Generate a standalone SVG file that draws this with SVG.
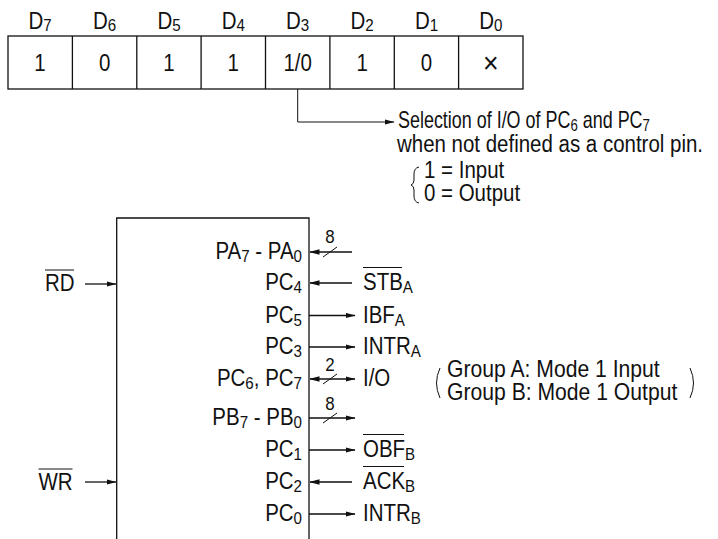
<svg xmlns="http://www.w3.org/2000/svg" width="718" height="539" viewBox="0 0 718 539">
<style>
text{font-family:"Liberation Sans",Arial,sans-serif;font-size:23px;fill:#111}
.c{text-anchor:middle}
.e{text-anchor:end}
.s{font-size:17px}
.n{font-size:19px}
.x{font-size:30px}
.ln{stroke:#111;stroke-width:1.3;fill:none}
.th{stroke:#111;stroke-width:1;fill:none}
</style>
<defs>
<marker id="ah" markerUnits="userSpaceOnUse" markerWidth="10" markerHeight="6" refX="9.5" refY="3" orient="auto-start-reverse" viewBox="0 0 10 6">
<path d="M0,0.3 L10,3 L0,5.7 z" fill="#111"/>
</marker>
</defs>
<g id="register">
<rect x="8" y="36" width="515" height="53" class="ln"/>
<path class="ln" d="M72.4,36V89M136.8,36V89M201.1,36V89M265.5,36V89M329.9,36V89M394.3,36V89M458.6,36V89"/>
<text class="c" transform="translate(40,29) scale(.89,1)">D<tspan class="s" dy="2">7</tspan></text>
<text class="c" transform="translate(104.6,29) scale(.89,1)">D<tspan class="s" dy="2">6</tspan></text>
<text class="c" transform="translate(169,29) scale(.89,1)">D<tspan class="s" dy="2">5</tspan></text>
<text class="c" transform="translate(233.3,29) scale(.89,1)">D<tspan class="s" dy="2">4</tspan></text>
<text class="c" transform="translate(297.7,29) scale(.89,1)">D<tspan class="s" dy="2">3</tspan></text>
<text class="c" transform="translate(362.1,29) scale(.89,1)">D<tspan class="s" dy="2">2</tspan></text>
<text class="c" transform="translate(426.5,29) scale(.89,1)">D<tspan class="s" dy="2">1</tspan></text>
<text class="c" transform="translate(490.9,29) scale(.89,1)">D<tspan class="s" dy="2">0</tspan></text>
<text class="c" transform="translate(40,71) scale(.89,1)">1</text>
<text class="c" transform="translate(104.6,71) scale(.89,1)">0</text>
<text class="c" transform="translate(169,71) scale(.89,1)">1</text>
<text class="c" transform="translate(233.3,71) scale(.89,1)">1</text>
<text class="c" transform="translate(297.7,71) scale(.89,1)">1/0</text>
<text class="c" transform="translate(362.1,71) scale(.89,1)">1</text>
<text class="c" transform="translate(426.5,71) scale(.89,1)">0</text>
<text class="c x" transform="translate(490.9,73) scale(.89,1)">×</text>
</g>
<g id="selection-note">
<text transform="translate(398,128) scale(.78,1)">Selection of I/O of PC<tspan class="s" dy="3">6</tspan><tspan dy="-3"> and PC</tspan><tspan class="s" dy="3">7</tspan></text>
<text transform="translate(397,152) scale(.89,1)">when not defined as a control pin.</text>
<path class="th" d="M419,167 Q414,168 414,174 L414,180 Q414,184 411,185 Q414,186 414,190 L414,196 Q414,202 419,203"/>
<text transform="translate(424,178) scale(.89,1)">1 = Input</text>
<text transform="translate(424,201) scale(.89,1)">0 = Output</text>
</g>
<g id="chip">
<path class="ln" d="M116.7,539V218H309V539"/>
<text class="e" transform="translate(302,259) scale(.89,1)">PA<tspan class="s" dy="3">7</tspan><tspan dy="-3"> - PA</tspan><tspan class="s" dy="3">0</tspan></text>
<text class="e" transform="translate(302,290) scale(.89,1)">PC<tspan class="s" dy="3">4</tspan></text>
<text class="e" transform="translate(302,322.5) scale(.89,1)">PC<tspan class="s" dy="3">5</tspan></text>
<text class="e" transform="translate(302,354) scale(.89,1)">PC<tspan class="s" dy="3">3</tspan></text>
<text class="e" transform="translate(302,386) scale(.89,1)">PC<tspan class="s" dy="3">6</tspan><tspan dy="-3">, PC</tspan><tspan class="s" dy="3">7</tspan></text>
<text class="e" transform="translate(302,425) scale(.89,1)">PB<tspan class="s" dy="3">7</tspan><tspan dy="-3"> - PB</tspan><tspan class="s" dy="3">0</tspan></text>
<text class="e" transform="translate(302,457) scale(.89,1)">PC<tspan class="s" dy="3">1</tspan></text>
<text class="e" transform="translate(302,489) scale(.89,1)">PC<tspan class="s" dy="3">2</tspan></text>
<text class="e" transform="translate(302,521) scale(.89,1)">PC<tspan class="s" dy="3">0</tspan></text>
</g>
<g id="rd">
<text transform="translate(45,291) scale(.89,1)">RD</text>
<line class="th" x1="45" y1="270" x2="74" y2="270"/>
</g>
<g id="wr">
<text transform="translate(38.5,490) scale(.89,1)">WR</text>
<line class="th" x1="38.5" y1="469" x2="72.5" y2="469"/>
</g>
<g id="signals">
<text transform="translate(363,290) scale(.89,1)">STB<tspan class="s" dy="3">A</tspan></text>
<line class="th" x1="363" y1="267.5" x2="402" y2="267.5"/>
<text transform="translate(363,322.5) scale(.89,1)">IBF<tspan class="s" dy="3">A</tspan></text>
<text transform="translate(363,354) scale(.89,1)">INTR<tspan class="s" dy="3">A</tspan></text>
<text transform="translate(363,386) scale(.89,1)">I/O</text>
<text transform="translate(363,457) scale(.89,1)">OBF<tspan class="s" dy="3">B</tspan></text>
<line class="th" x1="363" y1="434.5" x2="404" y2="434.5"/>
<text transform="translate(363,489) scale(.89,1)">ACK<tspan class="s" dy="3">B</tspan></text>
<line class="th" x1="363" y1="466.5" x2="404" y2="466.5"/>
<text transform="translate(363,521) scale(.89,1)">INTR<tspan class="s" dy="3">B</tspan></text>
</g>
<g id="mode-note">
<path class="th" d="M440,368 Q433,383 440,398"/>
<text transform="translate(447,377) scale(.92,1)">Group A: Mode 1 Input</text>
<text transform="translate(447,400) scale(.92,1)">Group B: Mode 1 Output</text>
<path class="th" d="M690,368 Q697,383 690,398"/>
</g>
<g id="connectors">
<path class="th" d="M297.7,89V122H394" marker-end="url(#ah)"/>
<line class="ln" x1="85" y1="284" x2="116" y2="284" marker-end="url(#ah)"/>
<line class="ln" x1="85" y1="482" x2="116" y2="482" marker-end="url(#ah)"/>
<line class="ln" x1="352" y1="252" x2="310" y2="252" marker-end="url(#ah)"/>
<path class="th" d="M323,257L337,247"/>
<text class="c n" transform="translate(330,243) scale(.89,1)">8</text>
<line class="ln" x1="352" y1="283" x2="310" y2="283" marker-end="url(#ah)"/>
<line class="ln" x1="309" y1="315.5" x2="355" y2="315.5" marker-end="url(#ah)"/>
<line class="ln" x1="309" y1="347" x2="355" y2="347" marker-end="url(#ah)"/>
<line class="ln" x1="310" y1="379" x2="355" y2="379" marker-start="url(#ah)" marker-end="url(#ah)"/>
<path class="th" d="M323,384L337,374"/>
<text class="c n" transform="translate(330,371) scale(.89,1)">2</text>
<line class="ln" x1="309" y1="418" x2="355" y2="418" marker-end="url(#ah)"/>
<path class="th" d="M323,423L337,413"/>
<text class="c n" transform="translate(330,410) scale(.89,1)">8</text>
<line class="ln" x1="309" y1="450" x2="355" y2="450" marker-end="url(#ah)"/>
<line class="ln" x1="352" y1="482" x2="310" y2="482" marker-end="url(#ah)"/>
<line class="ln" x1="309" y1="514" x2="355" y2="514" marker-end="url(#ah)"/>
</g>
</svg>
